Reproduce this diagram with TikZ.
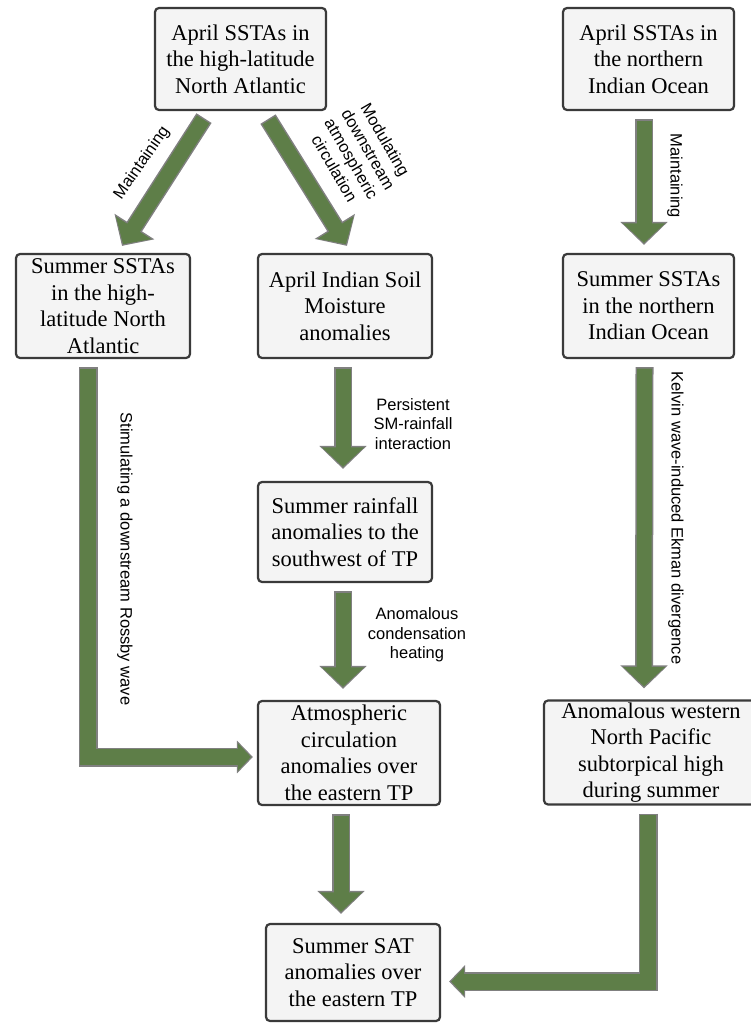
\documentclass[tikz,border=0pt]{standalone}
\usepackage{fontspec}
\setmainfont{Liberation Serif}
\setsansfont{Liberation Sans}
\usetikzlibrary{arrows.meta}
\definecolor{arrowgreen}{HTML}{5E7E48}
\definecolor{arrowgray}{HTML}{808080}
\definecolor{boxfill}{HTML}{F4F4F4}
\definecolor{boxline}{HTML}{3A3A3A}
\tikzset{
  box/.style={draw=boxline, line width=2.2pt, rounded corners=4pt, fill=boxfill,
    align=center, inner sep=2pt, font=\fontsize{22.5}{26.5}\selectfont},
  lbl/.style={align=center, inner sep=0pt, font=\sffamily\fontsize{16.5}{19.5}\selectfont},
  fatarrow/.style={draw=arrowgray, line width=18pt, line join=miter,
    -{Triangle[width=46pt,length=23pt]},
    postaction={draw=arrowgreen, line width=15pt, line join=miter,
      shorten >=2pt, shorten <=1.5pt, -{Triangle[width=41pt,length=19.5pt]}}},
  bendarrow/.style={draw=arrowgray, line width=19pt, line join=miter,
    -{Triangle[width=32pt,length=16pt]},
    postaction={draw=arrowgreen, line width=16pt, line join=miter,
      shorten >=2pt, shorten <=1.5pt, -{Triangle[width=27pt,length=13pt]}}}
}
\begin{document}
\begin{tikzpicture}[x=1pt,y=-1pt]
  \useasboundingbox (0,0) rectangle (751,1024);
  \node[box, minimum width=171pt, minimum height=102pt] (naApr) at (240.5,59) {April SSTAs in\\the high-latitude\\North Atlantic};
  \node[box, minimum width=171pt, minimum height=102pt] (ioApr) at (648.5,59) {April SSTAs in\\the northern\\Indian Ocean};
  \node[box, minimum width=174pt, minimum height=104pt] (naSum) at (103,306) {Summer SSTAs\\in the high-\\latitude North\\Atlantic};
  \node[box, minimum width=174pt, minimum height=104pt] (ism) at (345,306) {April Indian Soil\\Moisture\\anomalies};
  \node[box, minimum width=171pt, minimum height=104pt] (ioSum) at (648.5,306) {Summer SSTAs\\in the northern\\Indian Ocean};
  \node[box, minimum width=174pt, minimum height=100pt] (rain) at (345,532) {Summer rainfall\\anomalies to the\\southwest of TP};
  \node[box, minimum width=182pt, minimum height=104pt] (atm) at (349,753) {Atmospheric\\circulation\\anomalies over\\the eastern TP};
  \node[box, minimum width=174pt, minimum height=97pt] (sat) at (353,972.5) {Summer SAT\\anomalies over\\the eastern TP};
  \node[box, minimum width=214pt, minimum height=103pt] (wnph) at (651,752.5) {Anomalous western\\North Pacific\\subtorpical high\\during summer};

  \draw[fatarrow] ([shift={(-36.5,7)}]naApr.south) -- ([shift={(19,-7)}]naSum.north);
  \draw[fatarrow] ([shift={(27.5,8)}]naApr.south) -- ([shift={(2,-7)}]ism.north);
  \draw[fatarrow] ([shift={(-4.5,8)}]ioApr.south) -- ([shift={(-4.5,-8)}]ioSum.north);
  \draw[fatarrow] ([shift={(-2,8)}]ism.south) -- ([shift={(-2,-12)}]rain.north);
  \draw[fatarrow] ([shift={(-2,8)}]rain.south) -- ([shift={(-6,-11)}]atm.north);
  \draw[fatarrow] ([shift={(-8,8)}]atm.south) -- ([shift={(-12,-9)}]sat.north);
  \draw[fatarrow] ([shift={(-4,8)}]ioSum.south) -- ([shift={(-7,-11)}]wnph.north);
  \draw[bendarrow] ([shift={(-15,8)}]naSum.south) |- ([shift={(-4,4)}]atm.west);
  \draw[bendarrow] ([shift={(-3,8)}]wnph.south) |- ([shift={(8,9)}]sat.east);

  \node[lbl, rotate=55] (mainNA) at (142,163) {Maintaining};
  \node[lbl, rotate=-60] (modul) at (360,154) {Modulating\\downstream\\atmospheric\\circulation};
  \node[lbl, rotate=-90] (mainIO) at (675,176) {Maintaining};
  \node[lbl, rotate=-90] (rossby) at (125,559) {Stimulating a downstream Rossby wave};
  \node[lbl] (smrain) at (413,424) {Persistent\\SM-rainfall\\interaction};
  \node[lbl] (heat) at (417,635) {Anomalous\\condensation\\heating};
  \node[lbl, rotate=-90] (ekman) at (676,518) {Kelvin wave-induced Ekman divergence};
\end{tikzpicture}
\end{document}
